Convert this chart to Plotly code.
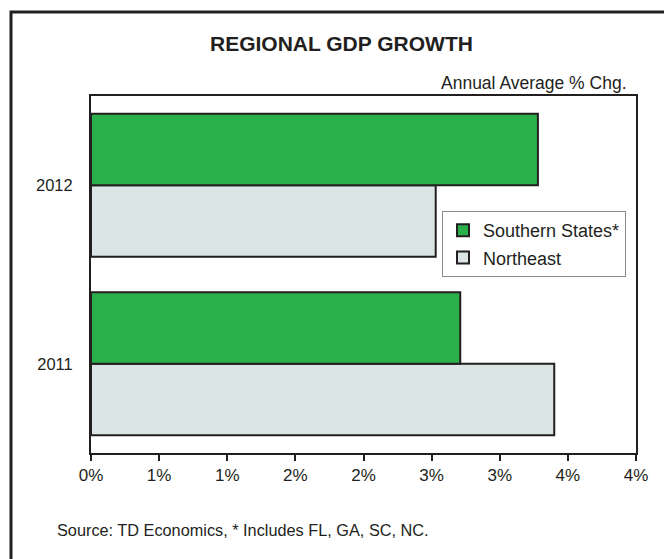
import plotly.graph_objects as go

years = ["2011", "2012"]
southern = [2.71, 3.28]
northeast = [3.40, 2.53]
x_tick_vals = [0, 0.5, 1, 1.5, 2, 2.5, 3, 3.5, 4]
x_tick_text = ["0%", "1%", "1%", "2%", "2%", "3%", "3%", "4%", "4%"]

DARK = "#231f20"
FONT = "Liberation Sans, Arial, sans-serif"

fig = go.Figure()
fig.add_trace(go.Bar(
    y=years, x=northeast, orientation="h", name="Northeast",
    marker=dict(color="#dbe5e5", line=dict(color=DARK, width=2)),
    legendgroup="ne", legendrank=2,
))
fig.add_trace(go.Bar(
    y=years, x=southern, orientation="h", name="Southern States*",
    marker=dict(color="#2ab04b", line=dict(color=DARK, width=2)),
    legendgroup="so", legendrank=1,
))

L, R, T, B = 91, 28, 96, 106
W, H = 664, 559
pw, ph = W - L - R, H - T - B

def px(x):
    return (x - L) / pw

def py(y):
    return (H - B - y) / ph

fig.update_layout(
    width=W, height=H,
    margin=dict(l=L, r=R, t=T, b=B),
    paper_bgcolor="white", plot_bgcolor="white",
    font=dict(family=FONT, size=16, color=DARK),
    barmode="group", bargap=0.2, bargroupgap=0,
    showlegend=True,
    legend=dict(
        x=px(442), y=py(211), xanchor="left", yanchor="top",
        bordercolor="#8a8a8a", borderwidth=1, bgcolor="white",
        font=dict(size=18, family=FONT, color=DARK),
        traceorder="grouped", tracegroupgap=1,
        itemwidth=30,
    ),
    xaxis=dict(
        range=[0, 4], tickvals=x_tick_vals, ticktext=x_tick_text,
        showline=True, mirror=True, linecolor=DARK, linewidth=2,
        ticks="outside", ticklen=6, tickwidth=2, tickcolor=DARK,
        showgrid=False, zeroline=False, fixedrange=True,
        tickfont=dict(size=17),
    ),
    yaxis=dict(
        showline=True, mirror=True, linecolor=DARK, linewidth=2,
        ticks="", showgrid=False, zeroline=False, fixedrange=True,
        ticklabelstandoff=13, tickfont=dict(size=16.5),
    ),
    shapes=[dict(
        type="rect", xref="paper", yref="paper",
        x0=px(11), x1=px(700), y0=py(600), y1=py(12),
        line=dict(color=DARK, width=3), fillcolor="rgba(0,0,0,0)",
    )],
    annotations=[
        dict(text="<b>REGIONAL GDP GROWTH</b>", xref="paper", yref="paper",
             x=px(341), y=py(43), xanchor="center", yanchor="middle",
             showarrow=False, font=dict(size=21, family=FONT, color=DARK)),
        dict(text="Annual Average % Chg.", xref="paper", yref="paper",
             x=px(629), y=py(83), xanchor="right", yanchor="middle",
             showarrow=False, font=dict(size=17.5, family=FONT, color=DARK)),
        dict(text="Source: TD Economics, * Includes FL, GA, SC, NC.", xref="paper", yref="paper",
             x=px(55), y=py(530), xanchor="left", yanchor="middle",
             showarrow=False, font=dict(size=16.3, family=FONT, color=DARK)),
    ],
)

fig.write_html("out.html", config={"displayModeBar": False},
               post_script="document.body.style.margin='0px';")
